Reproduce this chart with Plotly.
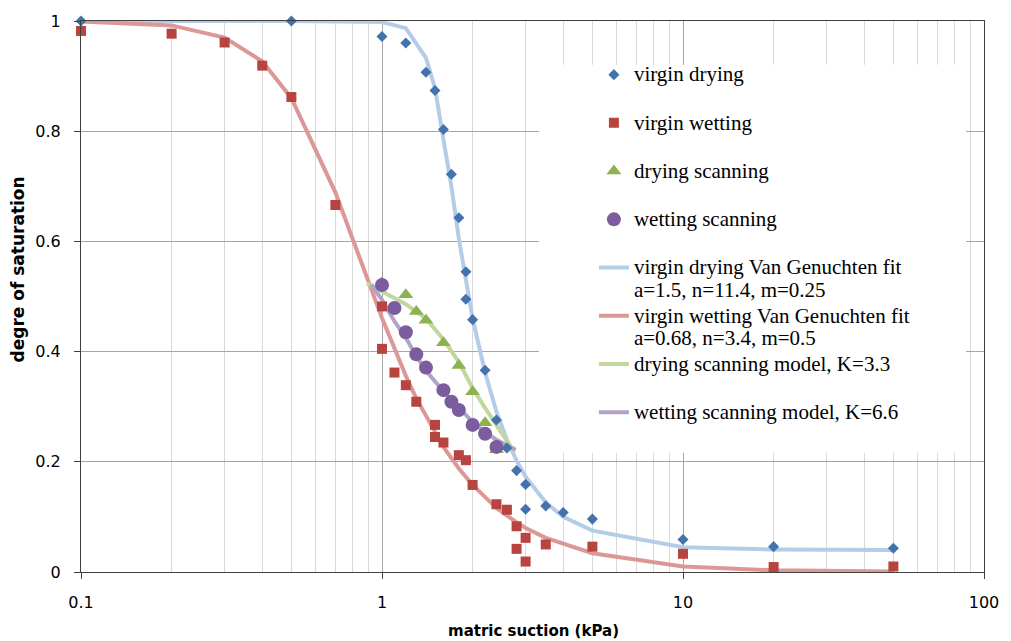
import plotly.graph_objects as go

# ---------------- data ----------------
vd_x = [0.1, 0.5, 1.0, 1.2, 1.4, 1.5, 1.6, 1.7, 1.8, 1.9, 1.9, 2.0, 2.2, 2.4, 2.6, 2.8, 3.0, 3.0, 3.5, 4.0, 5, 10, 20, 50]
vd_y = [1.0, 1.0, 0.972, 0.960, 0.907, 0.874, 0.803, 0.722, 0.643, 0.545, 0.495, 0.458, 0.366, 0.276, 0.225, 0.184, 0.159, 0.114, 0.120, 0.108, 0.096, 0.059, 0.046, 0.043]

vw_x = [0.1, 0.2, 0.3, 0.4, 0.5, 0.7, 1.0, 1.0, 1.1, 1.2, 1.3, 1.5, 1.5, 1.6, 1.8, 1.9, 2.0, 2.4, 2.6, 2.8, 3.0, 2.8, 3.0, 3.5, 5, 10, 20, 50]
vw_y = [0.982, 0.977, 0.961, 0.919, 0.862, 0.666, 0.482, 0.405, 0.362, 0.339, 0.309, 0.267, 0.245, 0.235, 0.212, 0.203, 0.158, 0.123, 0.113, 0.083, 0.062, 0.042, 0.019, 0.050, 0.046, 0.033, 0.009, 0.010]

ds_x = [1.0, 1.2, 1.3, 1.4, 1.6, 1.8, 2.0, 2.2, 2.4]
ds_y = [0.525, 0.503, 0.473, 0.457, 0.416, 0.375, 0.327, 0.271, 0.222]

ws_x = [1.0, 1.1, 1.2, 1.3, 1.4, 1.6, 1.7, 1.8, 2.0, 2.2, 2.4]
ws_y = [0.521, 0.479, 0.435, 0.395, 0.371, 0.330, 0.309, 0.294, 0.267, 0.251, 0.227]

# fitted / model curves
vdfit_x = [0.1, 0.5, 1.0, 1.2, 1.4, 1.5, 1.6, 1.7, 1.8, 1.9, 2.0, 2.2, 2.4, 2.6, 2.8, 3.0, 3.5, 4.0, 5, 10, 20, 50]
vdfit_y = [1.0, 1.0, 0.998, 0.987, 0.933, 0.878, 0.785, 0.700, 0.605, 0.530, 0.460, 0.362, 0.291, 0.240, 0.202, 0.173, 0.126, 0.100, 0.075, 0.045, 0.041, 0.040]

vwfit_x = [0.1, 0.2, 0.3, 0.4, 0.5, 0.7, 1.0, 1.1, 1.2, 1.3, 1.5, 1.6, 1.8, 1.9, 2.0, 2.4, 2.6, 2.8, 3.0, 3.5, 5, 10, 20, 50]
vwfit_y = [0.999, 0.992, 0.970, 0.927, 0.860, 0.689, 0.461, 0.404, 0.356, 0.315, 0.252, 0.227, 0.188, 0.172, 0.158, 0.116, 0.102, 0.090, 0.080, 0.062, 0.034, 0.010, 0.003, 0.001]

dsm_x = [0.89, 1.05, 1.2, 1.4, 1.6, 1.8, 2.0, 2.2, 2.4, 2.6, 2.75]
dsm_y = [0.524, 0.502, 0.486, 0.460, 0.422, 0.381, 0.334, 0.298, 0.265, 0.238, 0.218]

wsm_x = [0.92, 1.0, 1.1, 1.2, 1.3, 1.4, 1.6, 1.8, 2.0, 2.2, 2.4, 2.6, 2.78]
wsm_y = [0.522, 0.494, 0.455, 0.425, 0.392, 0.365, 0.328, 0.297, 0.272, 0.254, 0.240, 0.230, 0.222]

x_ticks = [0.1, 1, 10, 100]
y_ticks = [0, 0.2, 0.4, 0.6, 0.8, 1]

# ---------------- figure ----------------
def lg(t):
    return '<span style="font-size:21px">' + t + '</span>'

fig = go.Figure()

line_specs = [
    (vdfit_x, vdfit_y, '#B3CCE8', 'virgin drying Van Genuchten fit<br>a=1.5, n=11.4, m=0.25', 5),
    (vwfit_x, vwfit_y, '#DC9896', 'virgin wetting Van Genuchten fit<br>a=0.68, n=3.4, m=0.5', 6),
    (dsm_x, dsm_y, '#C3D69B', 'drying scanning model, K=3.3<br>\u00a0', 7),
    (wsm_x, wsm_y, '#B3A2C7', 'wetting scanning model, K=6.6<br>\u00a0', 8),
]
for xs, ys, col, name, rank in line_specs:
    fig.add_trace(go.Scatter(x=xs, y=ys, mode='lines', name=lg(name), legendrank=rank,
                             line=dict(color=col, width=4), cliponaxis=False))

marker_specs = [
    (vd_x, vd_y, 'diamond', 8.5, '#4472AD', 'virgin drying<br>\u00a0', 1),
    (vw_x, vw_y, 'square', 10, '#B8443F', 'virgin wetting<br>\u00a0', 2),
    (ds_x, ds_y, 'triangle-up', 13, '#8DB24F', 'drying scanning<br>\u00a0', 3),
    (ws_x, ws_y, 'circle', 14, '#7A5C9F', 'wetting scanning<br>\u00a0', 4),
]
for xs, ys, sym, sz, col, name, rank in marker_specs:
    fig.add_trace(go.Scatter(x=xs, y=ys, mode='markers', name=lg(name), legendrank=rank,
                             marker=dict(symbol=sym, size=sz, color=col, line=dict(width=0)),
                             cliponaxis=False))

# white legend box covering the grid (no data inside this region)
fig.add_shape(type='rect', xref='paper', yref='paper', x0=0.507, x1=0.980, y0=0.2166, y1=0.9206,
              fillcolor='white', line=dict(width=0), layer='above')

fig.update_layout(
    width=1011, height=641,
    margin=dict(l=81, r=23, t=18, b=69),
    paper_bgcolor='white', plot_bgcolor='white',
    showlegend=True,
    legend=dict(x=0.568, y=0.935, xanchor='left', yanchor='top', bgcolor='rgba(0,0,0,0)',
                font=dict(family='Liberation Serif', size=17.4, color='black'),
                valign='top', traceorder='normal'),
    font=dict(family='DejaVu Sans', color='black'),
    annotations=[
        dict(text='<b>matric suction (kPa)</b>', xref='paper', yref='paper', x=0.5006, y=-0.1078,
             showarrow=False, font=dict(family='DejaVu Sans', size=15, color='black'),
             xanchor='center', yanchor='middle'),
        dict(text='<b>degre of saturation</b>', xref='paper', yref='paper', x=-0.070, y=0.5487,
             showarrow=False, textangle=-90, font=dict(family='DejaVu Sans', size=17, color='black'),
             xanchor='center', yanchor='middle'),
    ],
)

fig.update_xaxes(type='log', range=[-1, 2], tickvals=x_ticks, ticktext=[str(v) for v in x_ticks],
                 showgrid=True, gridcolor='#A6A6A6', gridwidth=1,
                 minor=dict(dtick='D1', showgrid=True, gridcolor='#D9D9D9', gridwidth=1, ticks=''),
                 showline=True, linecolor='#404040', linewidth=1, mirror=True,
                 ticks='outside', ticklen=6, tickcolor='#404040',
                 tickfont=dict(family='DejaVu Sans', size=16, color='black'),
                 ticklabelstandoff=10, zeroline=False)
fig.update_yaxes(range=[0, 1], tickvals=y_ticks, ticktext=['0', '0.2', '0.4', '0.6', '0.8', '1'],
                 showgrid=True, gridcolor='#A6A6A6', gridwidth=1,
                 showline=True, linecolor='#404040', linewidth=1, mirror=True,
                 ticks='outside', ticklen=6, tickcolor='#404040',
                 tickfont=dict(family='DejaVu Sans', size=16, color='black'),
                 ticklabelstandoff=10, zeroline=False)

fig.write_html('out.html')
